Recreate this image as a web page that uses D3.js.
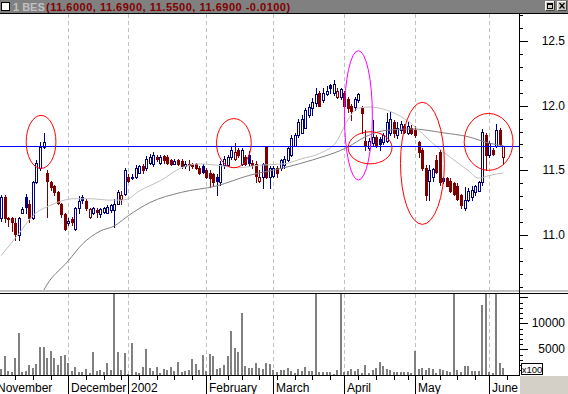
<!DOCTYPE html>
<meta charset="utf-8" />
<style>
  body { margin: 0; background: #fff; }
  svg { display: block; }
  text { font-family: "Liberation Sans", Arial, sans-serif; }
</style>
<svg width="568" height="394"></svg>
<script src="https://d3js.org/d3.v7.min.js"></script>
<script>
  // daily bars, index 0 = first visible bar (Nov 2001) .. 142 = 7 Jun 2002
  var openP = [
    11.13, 11.29, 11.13, 11.13, 11.09, 11.00, 11.17, 11.29, 11.24, 11.13,
    11.41, 11.52, 11.68, 11.48, 11.41, 11.38, 11.33, 11.24, 11.16, 11.09,
    11.12, 11.05, 11.21, 11.29, 11.26, 11.14, 11.17, 11.19, 11.16, 11.18,
    11.17, 11.19, 11.19, 11.24, 11.28, 11.32, 11.45, 11.44, 11.45, 11.48,
    11.53, 11.52, 11.56, 11.55, 11.60, 11.56, 11.61, 11.60, 11.58, 11.55,
    11.58, 11.57, 11.53, 11.55, 11.55, 11.55, 11.52, 11.53, 11.50, 11.48,
    11.47, 11.45, 11.41, 11.54, 11.54, 11.60, 11.59, 11.66, 11.55, 11.60,
    11.62, 11.56, 11.55, 11.42, 11.45, 11.68, 11.45, 11.46, 11.52, 11.52,
    11.54, 11.58, 11.62, 11.69, 11.77, 11.79, 11.83, 11.93, 11.98, 12.02,
    12.10, 12.04, 12.09, 12.16, 12.10, 12.07, 12.07, 12.10, 12.05, 12.00,
    11.99, 12.04, 11.98, 11.73, 11.67, 11.71, 11.76, 11.74, 11.72, 11.73,
    11.79, 11.87, 11.77, 11.81, 11.84, 11.79, 11.83, 11.81, 11.72, 11.66,
    11.52, 11.42, 11.45, 11.58, 11.64, 11.44, 11.44, 11.42, 11.40, 11.38,
    11.31, 11.21, 11.27, 11.29, 11.33, 11.34, 11.41, 11.77, 11.62, 11.66,
    11.69, 11.81, 11.60
  ];
  var highP = [
    11.31, 11.31, 11.14, 11.14, 11.13, 11.14, 11.22, 11.32, 11.27, 11.42,
    11.58, 11.72, 11.79, 11.50, 11.42, 11.39, 11.34, 11.25, 11.17, 11.13,
    11.14, 11.22, 11.30, 11.31, 11.28, 11.21, 11.22, 11.21, 11.21, 11.22,
    11.23, 11.24, 11.28, 11.35, 11.34, 11.52, 11.47, 11.47, 11.54, 11.54,
    11.55, 11.61, 11.63, 11.64, 11.62, 11.62, 11.62, 11.62, 11.59, 11.59,
    11.59, 11.59, 11.57, 11.58, 11.56, 11.56, 11.53, 11.55, 11.52, 11.50,
    11.48, 11.47, 11.57, 11.61, 11.62, 11.68, 11.71, 11.67, 11.67, 11.62,
    11.65, 11.58, 11.57, 11.50, 11.56, 11.69, 11.53, 11.53, 11.53, 11.59,
    11.61, 11.69, 11.77, 11.79, 11.90, 11.93, 11.98, 12.01, 12.06, 12.14,
    12.11, 12.14, 12.15, 12.17, 12.20, 12.14, 12.14, 12.11, 12.07, 12.01,
    12.07, 12.10, 12.00, 11.81, 11.75, 11.89, 11.77, 11.76, 11.79, 11.94,
    11.95, 11.89, 11.87, 11.88, 11.86, 11.88, 11.85, 11.84, 11.73, 11.67,
    11.54, 11.54, 11.52, 11.62, 11.66, 11.45, 11.45, 11.44, 11.41, 11.40,
    11.32, 11.37, 11.36, 11.38, 11.39, 11.42, 11.82, 11.79, 11.73, 11.67,
    11.86, 11.83, 11.69
  ];
  var lowP = [
    11.11, 11.10, 11.07, 11.03, 10.96, 10.96, 11.17, 11.17, 11.10, 11.12,
    11.40, 11.50, 11.67, 11.14, 11.35, 11.31, 11.24, 11.14, 11.04, 11.08,
    11.08, 11.04, 11.17, 11.25, 11.19, 11.13, 11.16, 11.14, 11.14, 11.17,
    11.17, 11.18, 11.06, 11.24, 11.24, 11.31, 11.41, 11.43, 11.44, 11.48,
    11.48, 11.50, 11.55, 11.53, 11.57, 11.55, 11.56, 11.55, 11.54, 11.55,
    11.54, 11.52, 11.52, 11.50, 11.52, 11.51, 11.47, 11.48, 11.44, 11.37,
    11.38, 11.31, 11.39, 11.52, 11.53, 11.59, 11.58, 11.60, 11.54, 11.54,
    11.53, 11.52, 11.41, 11.41, 11.36, 11.44, 11.36, 11.45, 11.45, 11.50,
    11.52, 11.57, 11.61, 11.69, 11.76, 11.79, 11.83, 11.91, 11.93, 12.00,
    12.00, 12.03, 12.08, 12.10, 12.08, 12.06, 12.05, 11.99, 11.95, 11.89,
    11.97, 12.03, 11.79, 11.66, 11.66, 11.69, 11.68, 11.66, 11.70, 11.72,
    11.77, 11.76, 11.75, 11.79, 11.79, 11.78, 11.78, 11.76, 11.60, 11.50,
    11.27, 11.27, 11.42, 11.48, 11.39, 11.40, 11.38, 11.33, 11.31, 11.27,
    11.21, 11.19, 11.26, 11.27, 11.31, 11.34, 11.39, 11.50, 11.60, 11.62,
    11.68, 11.69, 11.55
  ];
  var closeP = [
    11.29, 11.13, 11.12, 11.10, 11.01, 11.13, 11.20, 11.22, 11.13, 11.41,
    11.56, 11.68, 11.72, 11.42, 11.37, 11.33, 11.25, 11.16, 11.05, 11.11,
    11.10, 11.21, 11.26, 11.27, 11.21, 11.20, 11.21, 11.18, 11.20, 11.21,
    11.22, 11.23, 11.24, 11.33, 11.31, 11.50, 11.42, 11.45, 11.52, 11.53,
    11.50, 11.59, 11.60, 11.62, 11.59, 11.60, 11.58, 11.56, 11.55, 11.57,
    11.55, 11.53, 11.55, 11.54, 11.53, 11.52, 11.48, 11.49, 11.45, 11.44,
    11.41, 11.42, 11.55, 11.59, 11.60, 11.66, 11.64, 11.62, 11.66, 11.55,
    11.56, 11.54, 11.46, 11.45, 11.55, 11.45, 11.52, 11.52, 11.48, 11.58,
    11.59, 11.67, 11.75, 11.77, 11.87, 11.90, 11.97, 11.99, 12.03, 12.09,
    12.00, 12.10, 12.11, 12.14, 12.17, 12.11, 12.13, 12.00, 11.98, 11.96,
    12.05, 12.09, 11.94, 11.69, 11.73, 11.76, 11.69, 11.70, 11.77, 11.87,
    11.90, 11.79, 11.83, 11.86, 11.80, 11.84, 11.79, 11.77, 11.64, 11.52,
    11.31, 11.50, 11.51, 11.49, 11.41, 11.42, 11.38, 11.34, 11.32, 11.28,
    11.23, 11.27, 11.34, 11.35, 11.38, 11.41, 11.80, 11.62, 11.71, 11.63,
    11.81, 11.70, 11.69
  ];
  // volume in hundreds
  var volume = [
    1200, 3700, 830, 690, 3330, 8190, 690, 890, 1980, 1460,
    2170, 5500, 5500, 3330, 4670, 3330, 1980, 3700, 3900, 2360,
    890, 1600, 690, 690, 1210, 440, 4480, 830, 1020, 640,
    2360, 1020, 16800, 4480, 1020, 4290, 300, 6210, 640, 510,
    1530, 5060, 1340, 830, 1600, 440, 1150, 1020, 1600, 830,
    2560, 640, 830, 1020, 3130, 2170, 1020, 3900, 830, 4100,
    3770, 1210, 1470, 1980, 3710, 8520, 5310, 4480, 12040, 1730,
    1400, 1400, 2420, 1340, 1210, 2420, 2170, 1020, 640, 1020,
    1020, 1470, 890, 510, 1210, 830, 1600, 830, 830, 17500,
    640, 640, 640, 640, 290, 1020, 18200, 640, 830, 1210,
    830, 1210, 440, 1980, 440, 1020, 1470, 2560, 1800, 1210,
    1020, 640, 640, 640, 640, 640, 440, 4670, 1210, 1400,
    1020, 1400, 1210, 440, 1210, 1020, 830, 640, 16500, 1020,
    640, 1800, 1800, 830, 830, 830, 13520, 17000, 640, 440,
    16900, 2360, 1400
  ];

  // moving averages: [bar index, value]
  var maShort = [
    [0, 10.84], [5, 11.01], [9, 11.15], [14, 11.23], [18, 11.27], [20, 11.28],
    [26, 11.28], [30, 11.27], [34, 11.27], [36, 11.28], [39, 11.34], [42, 11.38],
    [45, 11.42], [51, 11.52], [56, 11.55], [61, 11.54], [67, 11.52], [73, 11.54],
    [80, 11.55], [85, 11.59], [90, 11.63], [95, 11.73], [98, 11.89], [101, 11.98],
    [104, 11.99], [109, 11.965], [114, 11.90], [116, 11.86], [122, 11.71],
    [127, 11.60], [132, 11.50], [135, 11.44], [138, 11.46], [142, 11.48]
  ];
  var maLong = [
    [10, 10.45], [12, 10.57], [19, 10.80], [23, 10.93], [28, 11.03], [32, 11.07],
    [36, 11.15], [42, 11.25], [51, 11.33], [61, 11.38], [70, 11.46], [80, 11.52],
    [88, 11.58], [98, 11.68], [103, 11.76], [109, 11.81], [116, 11.82],
    [125, 11.79], [132, 11.76], [138, 11.71], [142, 11.69]
  ];

  var monthStarts = [-2, 19, 36, 58, 77, 97, 117, 138];
  var monthLabels = ["November", "December", "2002", "February", "March", "April", "May", "June"];
  var weekStarts = [-1, 4, 9, 14, 19, 24, 29, 34, 36, 39, 44, 49, 54, 59, 64, 68, 73,
    78, 83, 88, 93, 97, 101, 106, 111, 115, 119, 124, 129, 134, 138, 143];
  var priceLabels = [11.0, 11.5, 12.0, 12.5];
  var volLabels = [5000, 10000];
  var refLevel = 11.69;
  // hand-drawn rings: centre (bar, price), radius (bars, price)
  var rings = [
    { i: 11.3, p: 11.72, ri: 4.2, rp: 0.205, color: "#ff0000" },
    { i: 65.8, p: 11.71, ri: 4.9, rp: 0.19, color: "#ff0000" },
    { i: 101, p: 11.925, ri: 3.95, rp: 0.5, color: "#ff00ff" },
    { i: 104.3, p: 11.674, ri: 6.2, rp: 0.124, color: "#ff0000" },
    { i: 119.1, p: 11.554, ri: 6.2, rp: 0.472, color: "#ff0000" },
    { i: 137.8, p: 11.72, ri: 6.9, rp: 0.22, color: "#ff0000" }
  ];
  var titleName = "1 BES";
  var titleQuote = "(11.6000, 11.6900, 11.5500, 11.6900 -0.0100)";

  var svg = d3.select("svg");
  var axisX = 519, pTop = 14, pBot = 290, vTop = 294, vBot = 375;

  var x = d3.scaleLinear().domain([19, 138]).range([68.3, 489.3]);
  var xr = x.copy().interpolate(d3.interpolateRound);
  var y = d3.scaleLinear().domain([11, 12.5]).range([235, 41]);
  var yr = y.copy().interpolate(d3.interpolateRound);
  var yv = d3.scaleLinear().domain([0, 10000]).range([375.3, 323.3]);
  var yvr = yv.copy().interpolate(d3.interpolateRound);

  var defs = svg.append("defs");
  defs.append("clipPath").attr("id", "clipP").append("rect")
    .attr("x", 0).attr("y", pTop).attr("width", axisX).attr("height", pBot - pTop);
  defs.append("clipPath").attr("id", "clipV").append("rect")
    .attr("x", 0).attr("y", vTop).attr("width", axisX).attr("height", vBot - vTop);

  svg.append("rect").attr("width", 568).attr("height", 394).attr("fill", "#fff");

  // month grid
  var grid = svg.append("g").attr("stroke", "#c0c0c0").attr("stroke-dasharray", "4,3");
  monthStarts.filter(function (m) { return m >= 0; }).forEach(function (m) {
    var gx = xr(m) + 0.5;
    grid.append("line").attr("x1", gx).attr("x2", gx).attr("y1", pTop).attr("y2", pBot);
    grid.append("line").attr("x1", gx).attr("x2", gx).attr("y1", vTop).attr("y2", vBot);
  });

  var bars = d3.range(closeP.length).map(function (i) {
    return {
      i: i, o: openP[i], h: highP[i], l: lowP[i], c: closeP[i], v: volume[i],
      col: i === 0 || closeP[i] >= closeP[i - 1] ? "#000080" : "#800000"
    };
  });

  var pg = svg.append("g").attr("clip-path", "url(#clipP)");
  var line = d3.line()
    .x(function (d) { return x(d[0]); })
    .y(function (d) { return y(d[1]); })
    .curve(d3.curveMonotoneX);

  var candle = pg.append("g").selectAll("g").data(bars).join("g");
  candle.append("line")
    .attr("x1", function (d) { return xr(d.i) + 0.5; })
    .attr("x2", function (d) { return xr(d.i) + 0.5; })
    .attr("y1", function (d) { return yr(d.h); })
    .attr("y2", function (d) { return yr(d.l) + 1; })
    .attr("stroke", function (d) { return d.col; });
  candle.append("rect")
    .attr("x", function (d) { return xr(d.i) - 0.5; })
    .attr("y", function (d) { return yr(Math.max(d.o, d.c)) + 0.5; })
    .attr("width", 2)
    .attr("height", function (d) { return yr(Math.min(d.o, d.c)) - yr(Math.max(d.o, d.c)); })
    .attr("fill", function (d) { return d.c < d.o ? d.col : "#fff"; })
    .attr("stroke", function (d) { return d.col; });

  pg.append("path").datum(maLong).attr("d", line)
    .attr("fill", "none").attr("stroke", "#808080");
  pg.append("path").datum(maShort).attr("d", line)
    .attr("fill", "none").attr("stroke", "#c0c0c0");

  pg.append("line")
    .attr("x1", 0).attr("x2", axisX)
    .attr("y1", yr(refLevel) + 0.5).attr("y2", yr(refLevel) + 0.5)
    .attr("stroke", "#0000ff");

  pg.selectAll("ellipse").data(rings).join("ellipse")
    .attr("cx", function (d) { return x(d.i); })
    .attr("cy", function (d) { return y(d.p); })
    .attr("rx", function (d) { return x(d.i + d.ri) - x(d.i); })
    .attr("ry", function (d) { return y(d.p) - y(d.p + d.rp); })
    .attr("fill", "none")
    .attr("stroke", function (d) { return d.color; });

  // volume
  svg.append("g").attr("clip-path", "url(#clipV)")
    .selectAll("rect").data(bars).join("rect")
    .attr("x", function (d) { return xr(d.i) - 1; })
    .attr("width", 2)
    .attr("y", function (d) { return yvr(d.v); })
    .attr("height", function (d) { return vBot - yvr(d.v); })
    .attr("fill", "#808080");

  // panel frames
  svg.append("rect").attr("x", 0).attr("y", 290).attr("width", 568).attr("height", 2).attr("fill", "#c0c0c0");
  svg.append("line").attr("x1", 0).attr("x2", 568).attr("y1", 293.5).attr("y2", 293.5).attr("stroke", "#000");
  svg.append("line").attr("x1", axisX + 0.5).attr("x2", axisX + 0.5).attr("y1", 13).attr("y2", vBot + 1).attr("stroke", "#000");
  svg.append("line").attr("x1", 0).attr("x2", axisX + 1).attr("y1", vBot + 0.5).attr("y2", vBot + 0.5).attr("stroke", "#000");

  function styleAxis(g) {
    g.select(".domain").remove();
    g.selectAll("line").attr("stroke", "#000");
    g.selectAll("text")
      .attr("x", 46).attr("text-anchor", "end")
      .attr("font-family", "\"Liberation Sans\", Arial, sans-serif")
      .attr("font-size", 12).attr("fill", "#000");
  }

  var ra = svg.append("g").attr("transform", "translate(" + axisX + ",0)");
  ra.append("g").call(d3.axisRight(yr)
    .tickValues(d3.range(106, 128).map(function (d) { return d / 10; }))
    .tickSize(4).tickFormat("")).call(styleAxis);
  ra.append("g").call(d3.axisRight(yr)
    .tickValues(priceLabels).tickSize(9).tickFormat(d3.format(".1f"))).call(styleAxis);
  ra.append("g").call(d3.axisRight(yvr)
    .tickValues(d3.range(1000, 16000, 1000)).tickSize(4).tickFormat("")).call(styleAxis);
  ra.append("g").call(d3.axisRight(yvr)
    .tickValues([5000, 10000, 15000]).tickSize(9)
    .tickFormat(function (d) { return volLabels.indexOf(d) >= 0 ? d : ""; })).call(styleAxis);

  // x100 box
  svg.append("rect").attr("x", 521.5).attr("y", 363.5).attr("width", 21).attr("height", 11)
    .attr("fill", "#fff").attr("stroke", "#000");
  svg.append("text").attr("x", 532).attr("y", 372.5).attr("text-anchor", "middle")
    .attr("font-size", 9.5).text("x100");

  // bottom axis
  var ba = svg.append("g").attr("transform", "translate(0," + vBot + ")");
  ba.append("g").call(d3.axisBottom(xr).tickValues(weekStarts).tickSize(5).tickFormat("")).call(styleAxis);
  ba.append("g").call(d3.axisBottom(xr).tickValues(monthStarts).tickSize(19).tickFormat("")).call(styleAxis);
  svg.append("g").selectAll("text").data(monthStarts).join("text")
    .attr("x", function (d) { return xr(d) + 3; })
    .attr("y", 392)
    .attr("font-size", 12)
    .text(function (d, k) { return monthLabels[k]; });
  svg.append("rect").attr("x", 520).attr("y", 376).attr("width", 48).attr("height", 18).attr("fill", "#d4d0c8");

  // title bar
  svg.append("rect").attr("width", 568).attr("height", 13).attr("fill", "#808080");
  svg.append("line").attr("x1", 0).attr("x2", 568).attr("y1", 13.5).attr("y2", 13.5).attr("stroke", "#000");
  svg.append("rect").attr("x", 1.5).attr("y", 2.5).attr("width", 8).attr("height", 8)
    .attr("fill", "#fff").attr("stroke", "#000");
  svg.append("text").attr("x", 13).attr("y", 10.5).attr("font-size", 11).attr("font-weight", "bold")
    .attr("fill", "#c0c0c0").text(titleName);
  svg.append("text").attr("x", 46).attr("y", 10.5).attr("font-size", 11).attr("font-weight", "bold")
    .attr("letter-spacing", 0.5).attr("fill", "#800000").text(titleQuote);

  [545, 557].forEach(function (bx, k) {
    var b = svg.append("g");
    b.append("rect").attr("x", bx).attr("y", 1).attr("width", 10).attr("height", 10).attr("fill", "#d4d0c8");
    b.append("path").attr("d", "M" + (bx + 0.5) + ",11V1.5H" + (bx + 10)).attr("fill", "none").attr("stroke", "#fff");
    b.append("path").attr("d", "M" + (bx + 0.5) + ",10.5H" + (bx + 9.5) + "V1").attr("fill", "none").attr("stroke", "#404040");
    if (k === 0) {
      b.append("rect").attr("x", bx + 2.5).attr("y", 3.5).attr("width", 5).attr("height", 5)
        .attr("fill", "none").attr("stroke", "#000");
      b.append("line").attr("x1", bx + 2).attr("x2", bx + 8).attr("y1", 4.5).attr("y2", 4.5).attr("stroke", "#000");
    } else {
      b.append("path").attr("d", "M" + (bx + 2.5) + ",3L" + (bx + 7.5) + ",8.5M" + (bx + 7.5) + ",3L" + (bx + 2.5) + ",8.5")
        .attr("stroke", "#000").attr("stroke-width", 1.3);
    }
  });
</script>
